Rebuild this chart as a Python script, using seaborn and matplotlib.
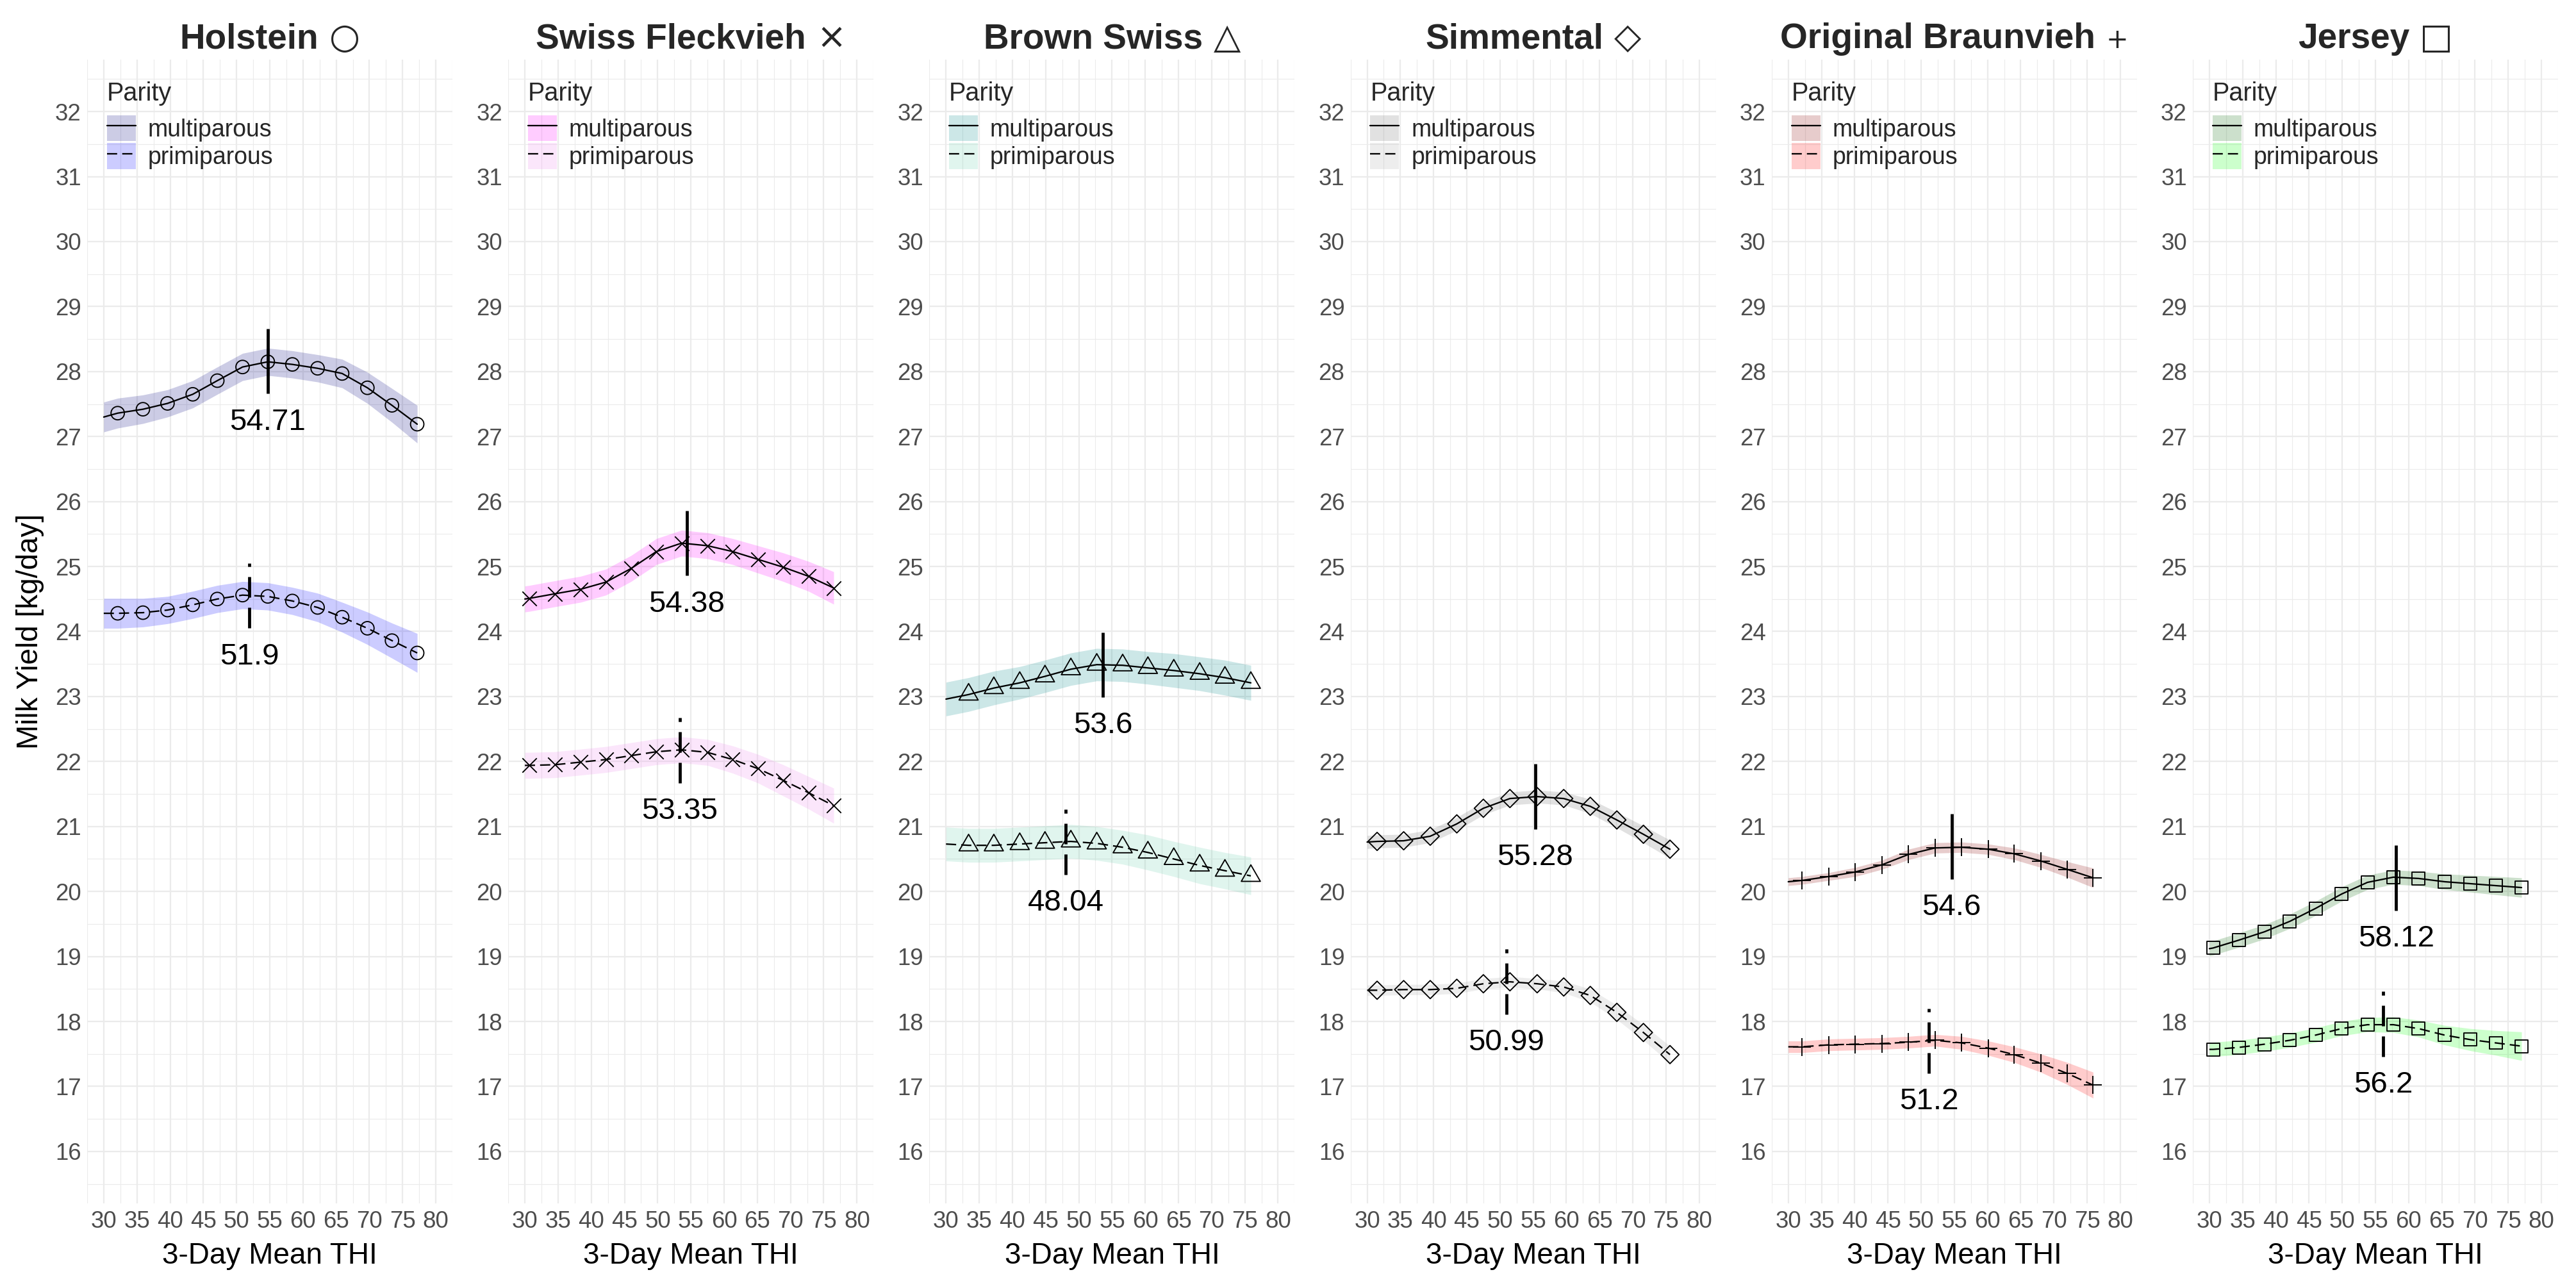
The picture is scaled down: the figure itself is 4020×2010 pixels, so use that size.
import numpy as np
import seaborn as sns
import matplotlib.pyplot as plt
from matplotlib.patches import Patch
from matplotlib.lines import Line2D
from matplotlib.path import Path
from matplotlib.ticker import MultipleLocator

# breeds, title symbols, point markers and ribbon colours
BREEDS = ["Holstein", "Swiss Fleckvieh", "Brown Swiss", "Simmental", "Original Braunvieh", "Jersey"]
SYMBOLS = ["○", "×", "△", "◇", "+", "□"]
# R-like open triangle: centred on its centroid, not on its bounding box
TRIANGLE = Path([(0, 1), (-0.866, -0.5), (0.866, -0.5), (0, 1)],
                [Path.MOVETO, Path.LINETO, Path.LINETO, Path.CLOSEPOLY])
MARKERS = ["o", "x", TRIANGLE, "D", "+", "s"]
MARKER_SIZE = [25, 29, 68, 23, 46, 23]
MULTI_FILL = ["navy", "magenta", "darkcyan", "dimgray", "darkred", "darkgreen"]
PRIMI_FILL = ["blue", "violet", "mediumaquamarine", "darkgray", "red", "lime"]

# first entry of every series is the start of the curve (THI 30), the rest carry a marker
HOL_X = [30, 32.1, 35.9, 39.6, 43.4, 47.1, 50.9, 54.7, 58.4, 62.2, 65.9, 69.7, 73.4, 77.2]
HOL_MULTI = [27.30, 27.36, 27.42, 27.51, 27.65, 27.86, 28.07, 28.15, 28.11, 28.05, 27.97, 27.75, 27.48, 27.19]
HOL_MULTI_CI = [0.23, 0.23, 0.22, 0.21, 0.21, 0.21, 0.21, 0.21, 0.21, 0.21, 0.22, 0.24, 0.26, 0.29]
HOL_PRIMI = [24.28, 24.28, 24.29, 24.33, 24.41, 24.50, 24.56, 24.54, 24.47, 24.37, 24.22, 24.05, 23.86, 23.67]
HOL_PRIMI_CI = [0.23, 0.23, 0.22, 0.21, 0.21, 0.21, 0.21, 0.21, 0.21, 0.22, 0.23, 0.25, 0.27, 0.30]

SF_X = [30, 30.7, 34.5, 38.4, 42.2, 46.0, 49.8, 53.6, 57.5, 61.3, 65.1, 68.9, 72.7, 76.5]
SF_MULTI = [24.50, 24.51, 24.58, 24.65, 24.76, 24.97, 25.23, 25.36, 25.32, 25.23, 25.11, 24.99, 24.85, 24.67]
SF_MULTI_CI = [0.20, 0.20, 0.20, 0.20, 0.20, 0.20, 0.20, 0.20, 0.20, 0.20, 0.21, 0.22, 0.23, 0.25]
SF_PRIMI = [21.94, 21.94, 21.95, 21.99, 22.03, 22.09, 22.15, 22.18, 22.14, 22.03, 21.89, 21.71, 21.52, 21.32]
SF_PRIMI_CI = [0.20, 0.20, 0.20, 0.20, 0.20, 0.20, 0.20, 0.20, 0.20, 0.21, 0.22, 0.24, 0.25, 0.27]

BS_X = [30, 33.4, 37.2, 41.1, 44.9, 48.8, 52.7, 56.6, 60.4, 64.3, 68.2, 72.0, 75.9]
BS_MULTI = [22.96, 23.03, 23.13, 23.21, 23.31, 23.42, 23.49, 23.48, 23.44, 23.40, 23.35, 23.29, 23.21]
BS_MULTI_CI = [0.26, 0.26, 0.26, 0.25, 0.25, 0.25, 0.25, 0.25, 0.25, 0.26, 0.26, 0.27, 0.27]
BS_PRIMI = [20.73, 20.71, 20.71, 20.73, 20.75, 20.77, 20.74, 20.68, 20.60, 20.50, 20.40, 20.32, 20.24]
BS_PRIMI_CI = [0.26, 0.26, 0.26, 0.26, 0.26, 0.26, 0.26, 0.26, 0.27, 0.27, 0.28, 0.28, 0.29]

SIM_X = [30, 31.5, 35.5, 39.5, 43.5, 47.5, 51.5, 55.6, 59.6, 63.6, 67.6, 71.6, 75.6]
SIM_MULTI = [20.76, 20.77, 20.78, 20.85, 21.04, 21.28, 21.43, 21.46, 21.43, 21.31, 21.10, 20.88, 20.65]
SIM_MULTI_CI = [0.10, 0.10, 0.10, 0.10, 0.10, 0.10, 0.10, 0.10, 0.10, 0.11, 0.12, 0.13, 0.14]
SIM_PRIMI = [18.48, 18.48, 18.49, 18.49, 18.51, 18.58, 18.61, 18.58, 18.53, 18.40, 18.14, 17.83, 17.49]
SIM_PRIMI_CI = [0.08, 0.08, 0.08, 0.08, 0.08, 0.08, 0.08, 0.08, 0.09, 0.10, 0.11, 0.12, 0.13]

OB_X = [30, 32.1, 36.1, 40.1, 44.1, 48.1, 52.1, 56.1, 60.1, 64.0, 68.0, 72.0, 75.9]
OB_MULTI = [20.15, 20.17, 20.23, 20.30, 20.41, 20.57, 20.67, 20.68, 20.65, 20.58, 20.47, 20.34, 20.21]
OB_MULTI_CI = [0.06, 0.06, 0.06, 0.07, 0.07, 0.08, 0.08, 0.08, 0.08, 0.09, 0.10, 0.12, 0.15]
OB_PRIMI = [17.61, 17.61, 17.64, 17.65, 17.66, 17.68, 17.71, 17.67, 17.59, 17.49, 17.36, 17.20, 17.02]
OB_PRIMI_CI = [0.09, 0.09, 0.09, 0.09, 0.09, 0.09, 0.09, 0.10, 0.11, 0.12, 0.14, 0.17, 0.20]

JER_X = [30, 30.55, 34.4, 38.3, 42.1, 46.0, 49.9, 53.8, 57.7, 61.5, 65.4, 69.3, 73.1, 77.0]
JER_MULTI = [19.12, 19.13, 19.25, 19.38, 19.54, 19.74, 19.96, 20.14, 20.22, 20.20, 20.15, 20.12, 20.09, 20.06]
JER_MULTI_CI = [0.11, 0.11, 0.11, 0.11, 0.11, 0.11, 0.11, 0.11, 0.11, 0.11, 0.12, 0.13, 0.14, 0.15]
JER_PRIMI = [17.57, 17.57, 17.60, 17.65, 17.71, 17.79, 17.89, 17.95, 17.95, 17.89, 17.79, 17.72, 17.67, 17.62]
JER_PRIMI_CI = [0.11, 0.11, 0.11, 0.11, 0.11, 0.11, 0.11, 0.11, 0.12, 0.13, 0.15, 0.17, 0.19, 0.22]

# THI breakpoints and the fitted yield there
BP_MULTI = [54.71, 54.38, 53.6, 55.28, 54.6, 58.12]
BP_MULTI_Y = [28.16, 25.36, 23.49, 21.46, 20.69, 20.21]
BP_PRIMI = [51.9, 53.35, 48.04, 50.99, 51.2, 56.2]
BP_PRIMI_Y = [24.55, 22.17, 20.76, 18.61, 17.70, 17.96]

XS = [HOL_X, SF_X, BS_X, SIM_X, OB_X, JER_X]
MULTI = [HOL_MULTI, SF_MULTI, BS_MULTI, SIM_MULTI, OB_MULTI, JER_MULTI]
MULTI_CI = [HOL_MULTI_CI, SF_MULTI_CI, BS_MULTI_CI, SIM_MULTI_CI, OB_MULTI_CI, JER_MULTI_CI]
PRIMI = [HOL_PRIMI, SF_PRIMI, BS_PRIMI, SIM_PRIMI, OB_PRIMI, JER_PRIMI]
PRIMI_CI = [HOL_PRIMI_CI, SF_PRIMI_CI, BS_PRIMI_CI, SIM_PRIMI_CI, OB_PRIMI_CI, JER_PRIMI_CI]

sns.set_theme(style="white")
plt.rcParams["font.family"] = ["Liberation Sans", "DejaVu Sans"]
plt.rcParams["lines.scale_dashes"] = False

GREY = "#EBEBEB"
CURVE_DASH = (0, (3.8, 1.9))
VLINE_DASH = (0, (7.7, 3.8))

fig = plt.figure(figsize=(13.4, 6.7), dpi=300)
W, H = 4020, 2010
axes = []

for i, breed in enumerate(BREEDS):
    left = 136 + i * 657.2
    ax = fig.add_axes([left / W, 132 / H, 570 / W, 1785 / H])
    axes.append(ax)
    x = np.array(XS[i])
    unfilled = isinstance(MARKERS[i], str) and MARKERS[i] in ("x", "+")

    for ys, ci, fill, ls in [(MULTI[i], MULTI_CI[i], MULTI_FILL[i], "-"),
                             (PRIMI[i], PRIMI_CI[i], PRIMI_FILL[i], CURVE_DASH)]:
        y = np.array(ys)
        c = np.array(ci)
        ax.fill_between(x, y - c, y + c, color=fill, alpha=0.2, lw=0, zorder=2)
        sns.lineplot(x=x, y=y, ax=ax, color="black", lw=0.55, linestyle=ls,
                     sort=False, zorder=3)
        if unfilled:
            sns.scatterplot(x=x[1:], y=y[1:], ax=ax, marker=MARKERS[i], s=MARKER_SIZE[i],
                            color="black", linewidth=0.45, zorder=4)
        else:
            sns.scatterplot(x=x[1:], y=y[1:], ax=ax, marker=MARKERS[i], s=MARKER_SIZE[i],
                            facecolor="none", edgecolor="black", linewidth=0.45, zorder=4)

    # breakpoint marks and labels
    ax.vlines(BP_MULTI[i], BP_MULTI_Y[i] - 0.5, BP_MULTI_Y[i] + 0.5, color="black",
              lw=1.15, zorder=5)
    ax.vlines(BP_PRIMI[i], BP_PRIMI_Y[i] - 0.5, BP_PRIMI_Y[i] + 0.5, color="black",
              lw=1.15, linestyles=[VLINE_DASH], zorder=5)
    ax.text(BP_MULTI[i], BP_MULTI_Y[i] - 0.72, str(BP_MULTI[i]), ha="center", va="top",
            fontsize=11.4, color="black", zorder=6)
    ax.text(BP_PRIMI[i], BP_PRIMI_Y[i] - 0.72, str(BP_PRIMI[i]), ha="center", va="top",
            fontsize=11.4, color="black", zorder=6)

    ax.set_xlim(27.5, 82.5)
    ax.set_ylim(15.2, 32.8)
    ax.set_xticks(range(30, 81, 5))
    ax.set_yticks(range(16, 33))
    ax.xaxis.set_minor_locator(MultipleLocator(2.5))
    ax.yaxis.set_minor_locator(MultipleLocator(0.5))
    ax.grid(which="major", color=GREY, lw=0.55, zorder=0)
    ax.grid(which="minor", color=GREY, lw=0.28, zorder=0)
    ax.set_axisbelow(True)
    for s in ax.spines.values():
        s.set_visible(False)
    ax.tick_params(which="both", length=0, labelsize=8.8, labelcolor="#4D4D4D")
    ax.tick_params(axis="x", pad=2.6)
    ax.tick_params(axis="y", pad=2.2)
    ax.set_xlabel("3-Day Mean THI", fontsize=11, color="black", labelpad=3.5)
    if i == 0:
        ax.set_ylabel("Milk Yield [kg/day]", fontsize=11, color="black", labelpad=4)
    else:
        ax.set_ylabel("")

    h_multi = (Patch(facecolor=MULTI_FILL[i], alpha=0.2, lw=0),
               Line2D([], [], color="black", lw=0.55))
    h_primi = (Patch(facecolor=PRIMI_FILL[i], alpha=0.2, lw=0),
               Line2D([], [], color="black", lw=0.55, linestyle=CURVE_DASH))
    leg = ax.legend([h_multi, h_primi], ["multiparous", "primiparous"], title="Parity",
                    loc="upper left", bbox_to_anchor=(0.054, 0.981), frameon=False,
                    fontsize=9, title_fontsize=9.5, handlelength=1.2, handleheight=1.28,
                    handletextpad=0.5, labelspacing=0.07, borderpad=0, borderaxespad=0,
                    alignment="left")
    leg._legend_box.sep = 3.6

# titles: bold breed name followed by a plain marker symbol, centred together
fig.canvas.draw()
renderer = fig.canvas.get_renderer()
for i, ax in enumerate(axes):
    name = fig.text(0, 0, BREEDS[i], fontsize=13.2, weight="bold", ha="left", va="baseline")
    sym = fig.text(0, 0, SYMBOLS[i], fontsize=13.2 if SYMBOLS[i] != "+" else 10,
                   family=["DejaVu Sans"], ha="left", va="baseline")
    w1 = name.get_window_extent(renderer).width
    w2 = sym.get_window_extent(renderer).width
    gap = 13.2 * 0.3 / 72 * 300
    bb = ax.get_position()
    cx = (bb.x0 + bb.x1) / 2 * W
    x0 = cx - (w1 + gap + w2) / 2
    yb = 1 - 75 / H
    name.set_position((x0 / W, yb))
    sym.set_position(((x0 + w1 + gap) / W, yb))

fig.savefig("out.png", dpi=300)
